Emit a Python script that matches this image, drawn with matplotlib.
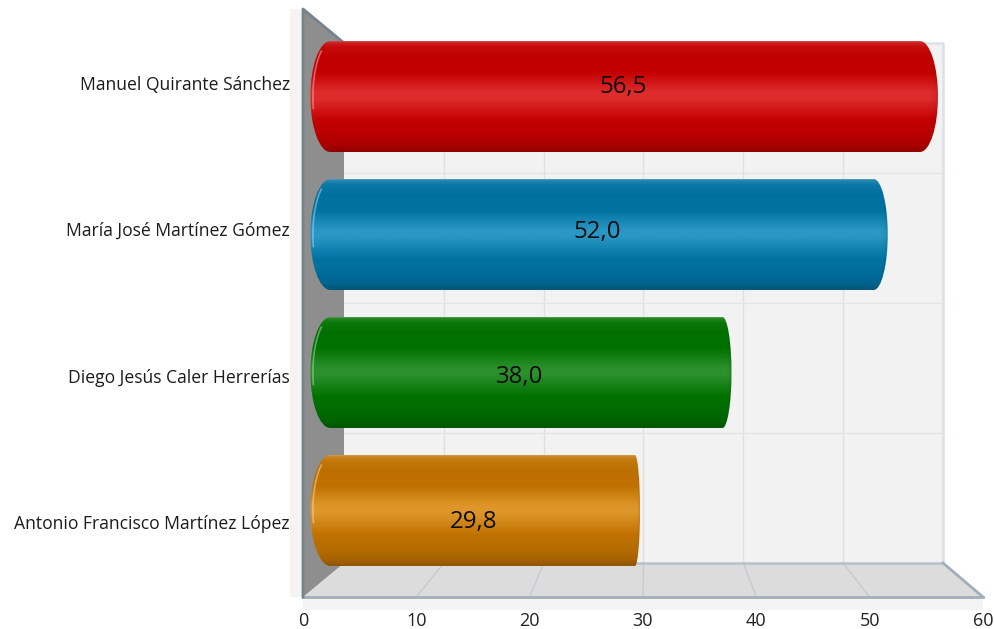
import numpy as np
import matplotlib
matplotlib.use("Agg")
import matplotlib.pyplot as plt
from matplotlib.path import Path
from matplotlib.patches import PathPatch, Polygon
from matplotlib.colors import to_rgb

categories = ["Manuel Quirante Sánchez", "María José Martínez Gómez",
              "Diego Jesús Caler Herrerías", "Antonio Francisco Martínez López"]
values = [56.5, 52.0, 38.0, 29.8]
value_labels = ["56,5", "52,0", "38,0", "29,8"]
x_ticks = [0, 10, 20, 30, 40, 50, 60]

main_colors = ["#c40000", "#0073a3", "#007200", "#c07200"]
glow_colors = ["#de2c2c", "#2a97c4", "#2c902c", "#de962a"]
end_caps_px = [18, 14, 9, 5]

W, H = 995, 629
FRONT_L, FRONT_R, FRONT_T, FRONT_B = 303, 983, 9, 597
BACK_L, BACK_R, BACK_T, BACK_B = 344, 943, 43, 563
PX_PER_UNIT = (FRONT_R - FRONT_L) / 60
BAR_X0, BAR_SCALE = 307.4, 11.16      # depth plane the bars stand on
ROW0, ROW_STEP, BAR_H = 96.5, 138.0, 0.804

fig = plt.figure(figsize=(W / 100, H / 100), dpi=100, facecolor="white")
ax = fig.add_axes([FRONT_L / W, 1 - FRONT_B / H, (FRONT_R - FRONT_L) / W, (FRONT_B - FRONT_T) / H])
ax.set_facecolor("none")
for s in ax.spines.values():
    s.set_visible(False)


def fx(px):
    return (px - FRONT_L) / PX_PER_UNIT


def fy(py):
    return (py - ROW0) / ROW_STEP


def depth(v):
    return fx(BAR_X0 + BAR_SCALE * v)


def poly(pts, **kw):
    p = Polygon([(fx(a), fy(b)) for a, b in pts], closed=True, clip_on=False, **kw)
    ax.add_patch(p)


# surrounding light panels
poly([(290, 9), (303, 9), (303, 610), (983, 610), (983, 597), (290, 597)], fc="#f4f4f4", ec="none", zorder=0)
# back wall
poly([(BACK_L, BACK_T), (BACK_R, BACK_T), (BACK_R, BACK_B), (BACK_L, BACK_B)], fc="#f2f2f2", ec="none", zorder=0.5)
for k in range(1, 6):
    xb = BACK_L + k * (BACK_R - BACK_L) / 6
    ax.plot([fx(xb)] * 2, [fy(BACK_T), fy(BACK_B)], color="#e0e0e0", lw=1, zorder=1, clip_on=False)
for k in range(1, 4):
    yb = BACK_T + k * (BACK_B - BACK_T) / 4
    ax.plot([fx(BACK_L), fx(BACK_R)], [fy(yb)] * 2, color="#e4e4e4", lw=1, zorder=1, clip_on=False)
ax.plot([fx(BACK_L), fx(BACK_R), fx(BACK_R)], [fy(BACK_T), fy(BACK_T), fy(BACK_B)],
        color="#dbe1e9", lw=1.8, zorder=1, clip_on=False)
# floor
poly([(FRONT_L, FRONT_B), (FRONT_R, FRONT_B), (BACK_R, BACK_B), (BACK_L, BACK_B)], fc="#dcdcdc", ec="none", zorder=1.2)
for t in x_ticks[1:-1]:
    xb = fx(BACK_L + t * (BACK_R - BACK_L) / 60)
    ax.plot([t, xb], [fy(FRONT_B), fy(BACK_B)], color="#c6cacf", lw=1, zorder=1.3, clip_on=False)
ax.plot([fx(BACK_L), fx(BACK_R)], [fy(BACK_B)] * 2, color="#b8c0ca", lw=1.8, zorder=1.3, clip_on=False)
ax.plot([fx(BACK_R), fx(FRONT_R)], [fy(BACK_B), fy(FRONT_B)], color="#a3aebb", lw=2, zorder=1.3, clip_on=False)
ax.plot([fx(FRONT_L), fx(FRONT_R)], [fy(FRONT_B)] * 2, color="#a3aebb", lw=2, zorder=1.4, clip_on=False)
# left wall
poly([(FRONT_L, FRONT_T), (BACK_L, BACK_T), (BACK_L, BACK_B), (FRONT_L, FRONT_B)], fc="#8e8e8e", ec="none", zorder=1.5)
ax.plot([fx(BACK_L), fx(FRONT_L), fx(FRONT_L)], [fy(BACK_T), fy(FRONT_T), fy(FRONT_B)],
        color="#76838f", lw=2, zorder=1.6, clip_on=False)


def mix(c, other, t):
    c, other = np.array(to_rgb(c)), np.array(to_rgb(other))
    return c * (1 - t) + other * t


def bar_gradient(main, glow):
    stops = [0.0, 0.012, 0.05, 0.14, 0.28, 0.46, 0.52, 0.72, 0.84, 0.94, 1.0]
    cols = [mix(main, "white", 0.30), mix(main, "white", 0.14), mix(main, "white", 0.04), mix(main, "black", 0.02),
            mix(main, "black", 0.0), to_rgb(glow), to_rgb(glow), mix(main, "black", 0.0),
            mix(main, "black", 0.05), mix(main, "black", 0.13), mix(main, "black", 0.26)]
    t = np.linspace(0, 1, 256)
    arr = np.stack([np.interp(t, stops, [c[i] for c in cols]) for i in range(3)], axis=1)
    return arr[:, None, :]


def bar_path(left, right, top, bottom, lcap, rcap):
    mid = (top + bottom) / 2
    k = 0.55
    verts = [(left + lcap, top), (right - rcap, top),
             (right - rcap * (1 - k), top), (right, mid - (mid - top) * k), (right, mid),
             (right, mid + (bottom - mid) * k), (right - rcap * (1 - k), bottom), (right - rcap, bottom),
             (left + lcap, bottom),
             (left + lcap * (1 - k), bottom), (left, mid + (bottom - mid) * k), (left, mid),
             (left, mid - (mid - top) * k), (left + lcap * (1 - k), top), (left + lcap, top),
             (left + lcap, top)]
    codes = [Path.MOVETO, Path.LINETO, Path.CURVE4, Path.CURVE4, Path.CURVE4, Path.CURVE4, Path.CURVE4, Path.CURVE4,
             Path.LINETO, Path.CURVE4, Path.CURVE4, Path.CURVE4, Path.CURVE4, Path.CURVE4, Path.CURVE4, Path.CLOSEPOLY]
    return Path(verts, codes)


for i, (val, main, glow, rc_px) in enumerate(zip(values, main_colors, glow_colors, end_caps_px)):
    left = depth(0) + 3.0 / PX_PER_UNIT
    right = depth(val)
    top, bottom = i - BAR_H / 2, i + BAR_H / 2
    lcap, rcap = 20 / PX_PER_UNIT, rc_px / PX_PER_UNIT
    path = bar_path(left, right, top, bottom, lcap, rcap)
    clip = PathPatch(path, transform=ax.transData, fc="none", ec="none")
    ax.add_patch(clip)
    im = ax.imshow(bar_gradient(main, glow), extent=(left, right, bottom, top), aspect="auto",
                   origin="upper", zorder=3, interpolation="bilinear")
    im.set_clip_path(clip)
    # darker shading towards the right end
    shade = np.zeros((1, 64, 4))
    shade[0, :, 3] = np.linspace(0, 1, 64) ** 3 * 0.16
    sh = ax.imshow(shade, extent=(right - 0.8 * rcap, right, bottom, top), aspect="auto", zorder=3.1,
                   interpolation="bilinear")
    sh.set_clip_path(clip)
    # light rim on the left end, following the curve just inside it
    mid = (top + bottom) / 2
    u = np.linspace(-0.82, 0.22, 60)
    yy = mid + u * BAR_H / 2
    xx = left + lcap * (1 - np.sqrt(1 - u ** 2)) + 2.5 / PX_PER_UNIT
    line, = ax.plot(xx, yy, color=mix(glow, "white", 0.60), lw=1.2, alpha=0.55, zorder=3.2,
                    solid_capstyle="round")
    line.set_clip_path(clip)

# value labels
for i, (val, lab) in enumerate(zip(values, value_labels)):
    ax.text(depth(val / 2), fy(86.5 + 145 * i), lab, ha="center", va="center", fontsize=17.3, family="Open Sans",
            color="#0c0c0c", zorder=5)

ax.set_xlim(0, 60)
ax.set_ylim(fy(FRONT_B), fy(FRONT_T))
ax.set_xticks(x_ticks)
ax.set_xticklabels([str(t) for t in x_ticks], fontsize=13, family="Open Sans", color="#222222")
ax.set_yticks([fy(82.5 + 146.6 * i) for i in range(len(categories))])
ax.set_yticklabels(categories, fontsize=12.65, family="Open Sans", color="#1c1c1c")
ax.tick_params(axis="x", length=0, pad=10.5)
ax.tick_params(axis="y", length=0, pad=9.5)
fig.savefig("out.png", dpi=100, facecolor="white")
